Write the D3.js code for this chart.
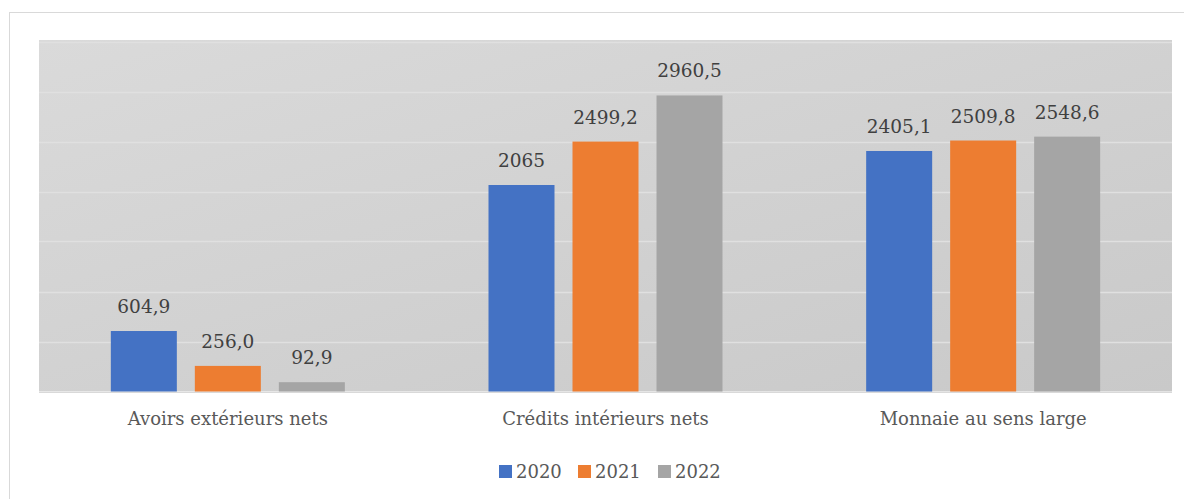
<!DOCTYPE html>
<html>
<head>
    <meta charset="UTF-8">
    <title>Agrégats monétaires</title>
    <style>
        body {
            margin: 0;
            overflow: hidden;
            background-color: #ffffff;
        }
    </style>
    <script src="https://cdn.jsdelivr.net/npm/d3@7"></script>
</head>
<body>
    <script>
        // donnees
        const categories = ["Avoirs extérieurs nets", "Crédits intérieurs nets", "Monnaie au sens large"];
        const years = ["2020", "2021", "2022"];
        const values2020 = [604.9, 2065, 2405.1];
        const values2021 = [256.0, 2499.2, 2509.8];
        const values2022 = [92.9, 2960.5, 2548.6];
        const labels2020 = ["604,9", "2065", "2405,1"];
        const labels2021 = ["256,0", "2499,2", "2509,8"];
        const labels2022 = ["92,9", "2960,5", "2548,6"];
        const yTicks = [0, 500, 1000, 1500, 2000, 2500, 3000, 3500];

        const width = 1184;
        const height = 499;
        const plot = {left: 39, right: 1172, top: 40, bottom: 391.5};
        const serif = "'DejaVu Serif', serif";

        const colors = d3.scaleOrdinal()
            .domain(years)
            .range(["#4472c4", "#ed7d31", "#a5a5a5"]);

        const series = [
            {year: "2020", values: values2020, labels: labels2020},
            {year: "2021", values: values2021, labels: labels2021},
            {year: "2022", values: values2022, labels: labels2022}
        ];

        const svg = d3.select('body')
            .append('svg')
            .attr('width', width)
            .attr('height', height)
            .attr('font-family', serif);

        // fond en degrade
        const defs = svg.append('defs');
        const grad = defs.append('linearGradient')
            .attr('id', 'bg')
            .attr('x1', '0%').attr('y1', '0%')
            .attr('x2', '100%').attr('y2', '100%');
        grad.append('stop').attr('offset', '0%').attr('stop-color', '#dadada');
        grad.append('stop').attr('offset', '100%').attr('stop-color', '#c9c9c9');

        // cadre du graphique
        svg.append('rect')
            .attr('x', 9.5).attr('y', 12.5)
            .attr('width', 1190).attr('height', 500)
            .attr('fill', 'none')
            .attr('stroke', '#d9d9d9');

        svg.append('rect')
            .attr('x', plot.left).attr('y', plot.top)
            .attr('width', plot.right - plot.left)
            .attr('height', plot.bottom - plot.top)
            .attr('fill', 'url(#bg)');

        const x0 = d3.scaleBand()
            .domain(categories)
            .range([plot.left, plot.right]);

        const barW = 66, gap = 18;
        const x1 = d3.scaleBand()
            .domain(years)
            .range([0, barW * 3 + gap * 2])
            .paddingInner(gap / (barW + gap))
            .paddingOuter(0);

        const y = d3.scaleLinear()
            .domain([0, 3500])
            .range([plot.bottom, plot.bottom - 350]);

        // lignes de grille
        svg.append('g')
            .selectAll('line')
            .data(yTicks.slice(1))
            .join('line')
            .attr('x1', plot.left)
            .attr('x2', plot.right)
            .attr('y1', d => Math.round(y(d)) + 0.5)
            .attr('y2', d => Math.round(y(d)) + 0.5)
            .attr('stroke', '#e0e0e0')
            .attr('stroke-width', 1.5);

        const groupOffset = (x0.bandwidth() - (barW * 3 + gap * 2)) / 2;

        const groups = svg.append('g')
            .selectAll('g')
            .data(series)
            .join('g');

        groups.selectAll('rect')
            .data(s => s.values.map((v, i) => ({year: s.year, v: v, cat: categories[i]})))
            .join('rect')
            .attr('x', d => x0(d.cat) + groupOffset + x1(d.year))
            .attr('y', d => y(d.v))
            .attr('width', x1.bandwidth())
            .attr('height', d => y(0) - y(d.v))
            .attr('fill', d => colors(d.year));

        groups.selectAll('text')
            .data(s => s.values.map((v, i) => ({year: s.year, v: v, cat: categories[i], label: s.labels[i]})))
            .join('text')
            .attr('x', d => x0(d.cat) + groupOffset + x1(d.year) + x1.bandwidth() / 2)
            .attr('y', d => y(d.v) - 18)
            .attr('text-anchor', 'middle')
            .attr('font-size', 18.5)
            .attr('fill', '#404040')
            .text(d => d.label);

        // axe horizontal
        svg.append('line')
            .attr('x1', plot.left).attr('x2', plot.right)
            .attr('y1', 392.5).attr('y2', 392.5)
            .attr('stroke', '#d9d9d9');

        svg.append('g')
            .selectAll('text')
            .data(categories)
            .join('text')
            .attr('x', d => x0(d) + x0.bandwidth() / 2)
            .attr('y', 425)
            .attr('text-anchor', 'middle')
            .attr('font-size', 18)
            .attr('fill', '#595959')
            .text(d => d);

        // legende
        const legendX = [499, 578, 658];
        const legend = svg.append('g')
            .selectAll('g')
            .data(years)
            .join('g')
            .attr('transform', (d, i) => `translate(${legendX[i]}, 465)`);
        legend.append('rect')
            .attr('width', 13).attr('height', 13)
            .attr('fill', d => colors(d));
        legend.append('text')
            .attr('x', 17)
            .attr('y', 13)
            .attr('font-size', 18)
            .attr('fill', '#595959')
            .text(d => d);
    </script>
</body>
</html>
